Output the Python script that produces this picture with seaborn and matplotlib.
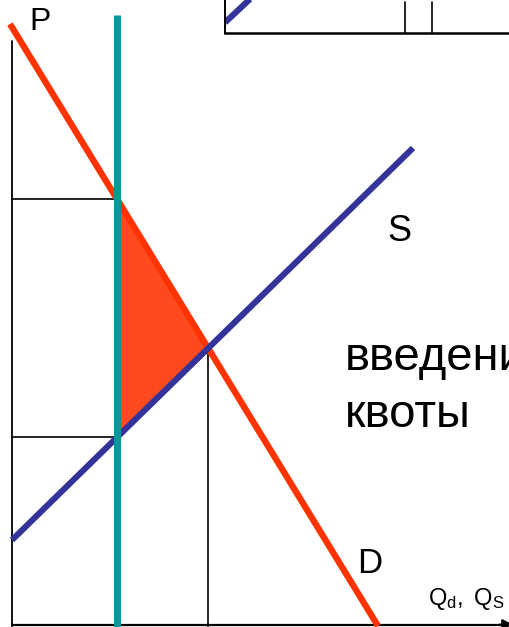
"""Quota on a market: demand, supply and the quota line with the rent triangle."""

import matplotlib
matplotlib.use("Agg")
import matplotlib.pyplot as plt
import seaborn as sns

# chart values (Q to the right from the P axis, P up from the Q axis)
demand_q = [-2, 366]
demand_p = [601, -1]
supply_q = [0, 401]
supply_p = [85, 477]
quota_q = 105
quota_p = [-2, 610]
p_axis_top = 584
q_axis_end = 495

# fragment of the neighbouring chart at the top right
inset_supply_q = [0, 32]
inset_supply_p = [10, 40]
inset_quota_q = [180, 207]
inset_quota_top = 31

labels = {"P": "P", "S": "S", "D": "D"}
caption = ["введени", "квоты"]

RED = "#ff3300"
FILL = "#ff4a1f"
BLUE = "#333399"
TEAL = "#009999"

sns.set_style("white")
plt.rcParams["font.family"] = ["Liberation Sans", "DejaVu Sans"]
plt.rcParams["mathtext.fontset"] = "custom"
plt.rcParams["mathtext.rm"] = "Liberation Sans"
plt.rcParams["mathtext.it"] = "Liberation Sans"
plt.rcParams["text.color"] = "black"


def line_coef(qs, ps):
    k = (ps[1] - ps[0]) / (qs[1] - qs[0])
    return k, ps[0] - k * qs[0]


# quota prices and the free-market equilibrium
kd, bd = line_coef(demand_q, demand_p)
ks, bs = line_coef(supply_q, supply_p)
p_demand_quota = bd + kd * quota_q
p_supply_quota = bs + ks * quota_q
q_eq = (bs - bd) / (kd - ks)
p_eq = bd + kd * q_eq

fig = plt.figure(figsize=(5.10, 6.27), dpi=100)
ax = fig.add_axes([0, 0, 1, 1])
ax.set_xlim(-12, 498)
ax.set_ylim(-2, 625)
ax.axis("off")

# axes of the diagram
ax.plot([0, 0], [-2, p_axis_top], color="black", lw=1.3, zorder=3)
ax.plot([0, q_axis_end], [0.5, 0.5], color="black", lw=1.6, zorder=3,
        solid_capstyle="butt")
ax.annotate("", xy=(q_axis_end + 6, 0.5), xytext=(q_axis_end - 8, 0.5),
            arrowprops=dict(arrowstyle="-|>", color="black", lw=1.3,
                            mutation_scale=16, shrinkA=0, shrinkB=0),
            annotation_clip=False)

# rent triangle
ax.fill([quota_q, quota_q, q_eq], [p_demand_quota, p_supply_quota, p_eq],
        color=FILL, lw=0, zorder=2)

# guide lines
ax.plot([0, quota_q], [p_demand_quota, p_demand_quota], color="black", lw=1.2, zorder=3)
ax.plot([0, quota_q], [p_supply_quota, p_supply_quota], color="black", lw=1.2, zorder=3)
ax.plot([q_eq, q_eq], [-2, p_eq], color="black", lw=1.2, zorder=3)

sns.lineplot(x=demand_q, y=demand_p, ax=ax, color=RED, lw=4.6,
             solid_capstyle="butt", zorder=4)
sns.lineplot(x=supply_q, y=supply_p, ax=ax, color=BLUE, lw=4.4,
             solid_capstyle="butt", zorder=5)
ax.plot([quota_q, quota_q], quota_p, color=TEAL, lw=5.0,
        solid_capstyle="butt", zorder=6)

# labels
ax.text(17, 595, labels["P"], fontsize=23, ha="left", va="baseline")
ax.text(375, 384, labels["S"], fontsize=26, ha="left", va="baseline")
ax.text(345, 52, labels["D"], fontsize=25, ha="left", va="baseline")
ax.text(416, 20, r"$\mathrm{Q_d,\ Q_S}$", fontsize=17, ha="left", va="baseline")
ax.text(333, 255, caption[0], fontsize=34, ha="left", va="baseline")
ax.text(333, 198, caption[1], fontsize=34, ha="left", va="baseline")

# neighbouring chart fragment, cut by the image edge (units are pixels)
iax = fig.add_axes([225 / 510, (627 - 32.5) / 627, 0.8, 0.2])
iax.set_xlim(0, 510 * 0.8)
iax.set_ylim(0, 627 * 0.2)
sns.despine(ax=iax)
iax.spines["left"].set_linewidth(1.4)
iax.spines["bottom"].set_linewidth(1.8)
iax.spines["left"].set_color("black")
iax.spines["bottom"].set_color("black")
iax.set_xticks([])
iax.set_yticks([])
iax.set_facecolor("none")
sns.lineplot(x=inset_supply_q, y=inset_supply_p, ax=iax, color=BLUE, lw=4.4,
             solid_capstyle="butt")
for q in inset_quota_q:
    iax.plot([q, q], [0, inset_quota_top], color="black", lw=1.2)

fig.savefig("out.png", dpi=100)
